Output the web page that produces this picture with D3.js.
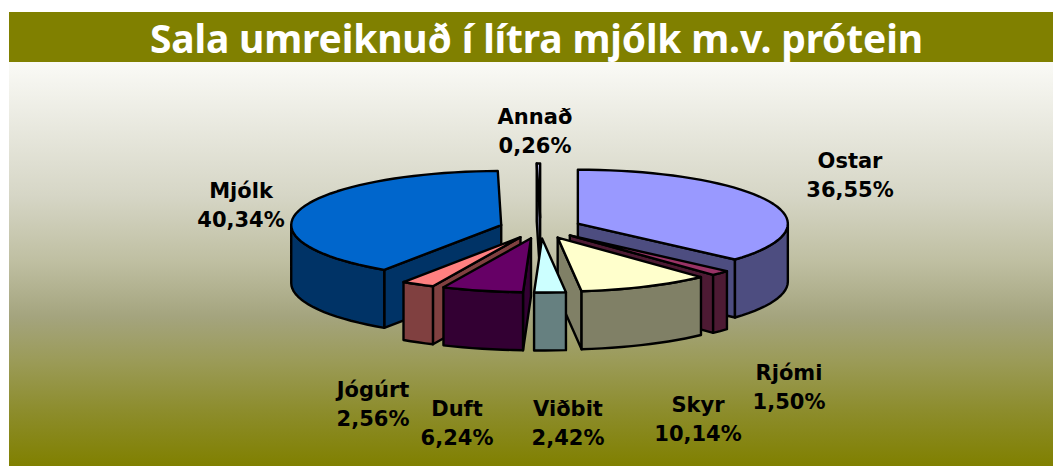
<!DOCTYPE html>
<html>
<head>
<meta charset="utf-8">
<script src="https://cdn.jsdelivr.net/npm/d3@7/dist/d3.min.js"></script>
<style>
html,body{margin:0;padding:0;background:#fff;}
svg{display:block;}
</style>
</head>
<body>
<div id="chart"></div>
<script>
const titleText = "Sala umreiknuð í lítra mjólk m.v. prótein";
const categories = ["Ostar","Rjómi","Skyr","Viðbit","Duft","Jógúrt","Mjólk","Annað"];
const shares = [36.55,1.50,10.14,2.42,6.24,2.56,40.34,0.26];
const shareLabels = ["36,55%","1,50%","10,14%","2,42%","6,24%","2,56%","40,34%","0,26%"];
const topColors = ["#9999FF","#993366","#FFFFCC","#CCFFFF","#660066","#FF8080","#0066CC","#CCCCFF"];
const sideColors = ["#4D4D80","#4D1A33","#808066","#668080","#330033","#804040","#003366","#666680"];
const labelCentres = [[850,168],[789,380],[698,412],[568,416],[457,416],[373,397],[241,198],[535,124]];
const gradientOffsets = [0,0.33,0.5,0.63,0.74,0.87,1];
const gradientColors = ["#FAFAF6","#D6D6C6","#BEBEA0","#A4A47E","#9B9B58","#8C8C2A","#808000"];

const W = 1053, H = 466;
const svg = d3.select("#chart").append("svg").attr("width",W).attr("height",H);
const defs = svg.append("defs");
const grad = defs.append("linearGradient").attr("id","bg").attr("x1",0).attr("y1",0).attr("x2",0).attr("y2",1);
gradientOffsets.forEach((o,i)=>grad.append("stop").attr("offset",o).attr("stop-color",gradientColors[i]));

const panelX = 9, bandTop = 12, bandBottom = 62;
svg.append("rect").attr("x",panelX).attr("y",bandBottom).attr("width",W-panelX).attr("height",H-bandBottom).attr("fill","url(#bg)");
svg.append("rect").attr("x",panelX).attr("y",bandTop).attr("width",W-panelX).attr("height",bandBottom-bandTop).attr("fill","#808000");
svg.append("text").attr("x",536.5).attr("y",53).attr("text-anchor","middle")
  .attr("font-family","'Noto Sans','DejaVu Sans',sans-serif").attr("font-weight","bold")
  .attr("font-size",39).attr("fill","#fff")
  .attr("textLength",773).attr("lengthAdjust","spacing").text(titleText);

// pie geometry
const cx = 540.5, cy = 228, rx = 210, ry = 54, depth = 58, explode = 0.195;
const pie = d3.pie().sort(null).value(d=>d)(shares);
const px = d3.scaleLinear().domain([-1,1]).range([cx-rx,cx+rx]);
const py = d3.scaleLinear().domain([-1,1]).range([cy-ry,cy+ry]);
const line = d3.line();

function slicesGeom(p,i){
  const mid = (p.startAngle+p.endAngle)/2;
  const ax = px(explode*Math.sin(mid)), ay = py(-explode*Math.cos(mid));
  const at = a => [ax+rx*Math.sin(a), ay-ry*Math.cos(a)];
  const arcPts = (a0,a1)=>{
    const n = Math.max(1,Math.ceil((a1-a0)/(Math.PI/60)));
    return d3.range(n+1).map(k=>at(a0+(a1-a0)*k/n));
  };
  return {i,mid,apex:[ax,ay],at,arcPts,a0:p.startAngle,a1:p.endAngle};
}
const geoms = pie.map(slicesGeom).sort((a,b)=>(-Math.cos(a.mid))-(-Math.cos(b.mid)));
const strokeW = 2.4;
const down = p => [p[0],p[1]+depth];

const groups = svg.selectAll("g.slice").data(geoms).join("g").attr("class","slice")
  .attr("stroke","#000").attr("stroke-width",strokeW).attr("stroke-linejoin","round");

groups.each(function(g){
  const sel = d3.select(this);
  const top = [g.apex,...g.arcPts(g.a0,g.a1)];
  const inner = g.at((g.a0+g.a1)/2);
  const interior = [(g.apex[0]+inner[0])/2,(g.apex[1]+inner[1])/2];
  const faces = [];
  [g.a0,g.a1].forEach(a=>{
    const P = g.at(a);
    const ex = P[0]-g.apex[0], ey = P[1]-g.apex[1];
    let nx = -ey, ny = ex;
    if(nx*(interior[0]-g.apex[0])+ny*(interior[1]-g.apex[1])>0){nx=-nx;ny=-ny;}
    if(ny>1e-6) faces.push([g.apex,P,down(P),down(g.apex)]);
  });
  const side = sideColors[g.i];
  faces.forEach(f=>sel.append("path").attr("d",line(f)+"Z").attr("fill",side));
  const w0 = Math.max(g.a0,Math.PI/2), w1 = Math.min(g.a1,3*Math.PI/2);
  if(w1>w0){
    const upper = g.arcPts(w0,w1);
    sel.append("path").attr("d",line([...upper,...upper.slice().reverse().map(down)])+"Z").attr("fill",side);
  }
  sel.append("path").attr("d",line(top)+"Z").attr("fill",topColors[g.i]);
});

const labels = svg.selectAll("text.lab").data(categories).join("text").attr("class","lab")
  .attr("text-anchor","middle").attr("font-family","'DejaVu Sans',sans-serif")
  .attr("font-weight","bold").attr("font-size",21).attr("fill","#000");
labels.each(function(c,i){
  const t = d3.select(this);
  t.append("tspan").attr("x",labelCentres[i][0]).attr("y",labelCentres[i][1]).text(c);
  t.append("tspan").attr("x",labelCentres[i][0]).attr("y",labelCentres[i][1]+28.5).text(shareLabels[i]);
});
</script>
</body>
</html>
